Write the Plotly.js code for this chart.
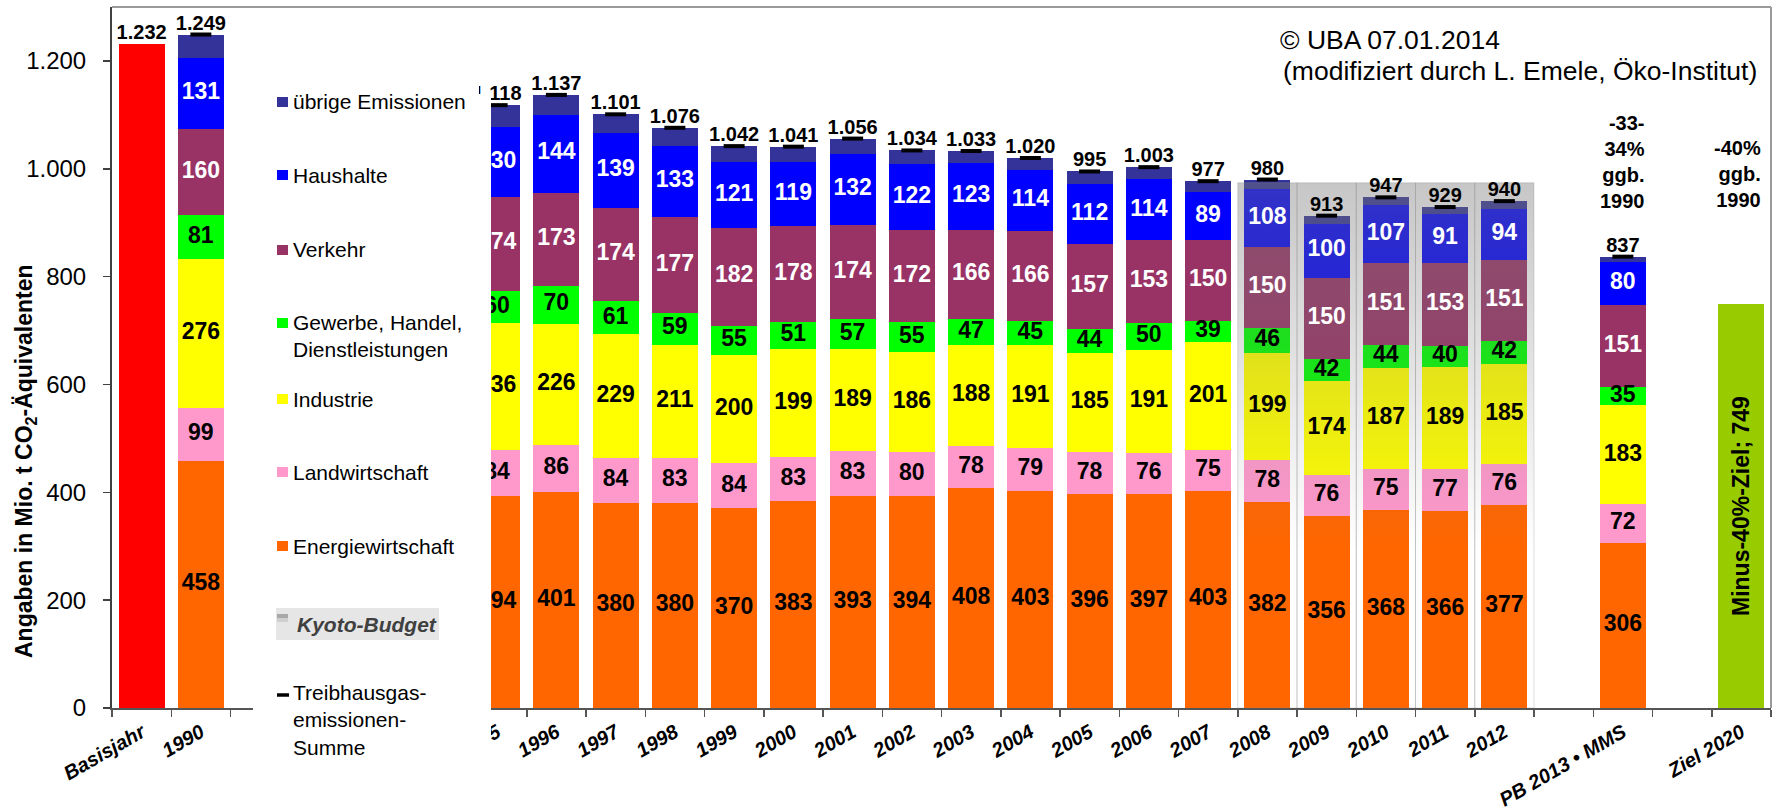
<!DOCTYPE html>
<html><head><meta charset="utf-8">
<script src="https://cdn.plot.ly/plotly-3.0.1.min.js"></script>
<style>html,body{margin:0;padding:0;background:#fff;}#chart{width:1776px;height:808px;}</style>
</head><body><div id="chart"></div>
<script>
// ---------- data ----------
const categories = ['Basisjahr','1990','','','','','1995','1996','1997','1998','1999','2000','2001','2002','2003','2004','2005','2006','2007','2008','2009','2010','2011','2012','','PB 2013 • MMS','','Ziel 2020'];

const energiewirtschaft = [null,458,null,null,null,null,394,401,380,380,370,383,393,394,408,403,396,397,403,382,356,368,366,377,null,306,null,null];
const landwirtschaft    = [null, 99,null,null,null,null, 84, 86, 84, 83, 84, 83, 83, 80, 78, 79, 78, 76, 75, 78, 76, 75, 77, 76,null, 72,null,null];
const industrie         = [null,276,null,null,null,null,236,226,229,211,200,199,189,186,188,191,185,191,201,199,174,187,189,185,null,183,null,null];
const gewerbe           = [null, 81,null,null,null,null, 60, 70, 61, 59, 55, 51, 57, 55, 47, 45, 44, 50, 39, 46, 42, 44, 40, 42,null, 35,null,null];
const verkehr           = [null,160,null,null,null,null,174,173,174,177,182,178,174,172,166,166,157,153,150,150,150,151,153,151,null,151,null,null];
const haushalte         = [null,131,null,null,null,null,130,144,139,133,121,119,132,122,123,114,112,114, 89,108,100,107, 91, 94,null, 80,null,null];
const uebrige           = [null, 44,null,null,null,null, 40, 37, 34, 33, 30, 28, 28, 25, 23, 22, 23, 22, 20, 17, 15, 15, 13, 15,null, 10,null,null];
const summe             = [null,1249,null,null,null,null,1118,1137,1101,1076,1042,1041,1056,1034,1033,1020,995,1003,977,980,913,947,929,940,null,837,null,null];

const basisjahrWert = 1232;
const zielWert = 749;
const kyotoBudget = 974;
const kyotoJahre = ['2008','2009','2010','2011','2012'];

// ---------- styles ----------
const FONT = 'Liberation Sans, Arial, sans-serif';
const series = [
  {name:'Energiewirtschaft', legend:'Energiewirtschaft', values:energiewirtschaft, color:'#ff6600', label:'#000000', ly:546},
  {name:'Landwirtschaft', legend:'Landwirtschaft', values:landwirtschaft, color:'#ff99cc', label:'#000000', ly:472},
  {name:'Industrie', legend:'Industrie', values:industrie, color:'#ffff00', label:'#000000', ly:399},
  {name:'Gewerbe, Handel, Dienstleistungen', legend:'Gewerbe, Handel,<br>Dienstleistungen', values:gewerbe, color:'#00ff00', label:'#000000', ly:323, lyc:335.5},
  {name:'Verkehr', legend:'Verkehr', values:verkehr, color:'#993366', label:'#ffffff', ly:250},
  {name:'Haushalte', legend:'Haushalte', values:haushalte, color:'#0000ff', label:'#ffffff', ly:175},
  {name:'übrige Emissionen', legend:'übrige Emissionen', values:uebrige, color:'#333399', label:null, ly:102}
];

const xIdx = categories.map((c, i) => i);

// plot area in pixels
const PL = 112, PR = 1771, PT = 7, PBt = 708;
const xp = px => (px - PL) / (PR - PL);
const yp = py => (PBt - py) / (PBt - PT);

const totalFont = {family:FONT, size:20, weight:'bold', color:'#000'};
const traces = [];

// red base-year bar
traces.push({
  type:'bar', name:'Basisjahr', x:[categories.indexOf('Basisjahr')], y:[basisjahrWert],
  marker:{color:'#ff0000'}, showlegend:false, hoverinfo:'y'
});

// stacked sector bars
series.forEach(s => {
  traces.push({
    type:'bar', name:s.name, x:xIdx, y:s.values, marker:{color:s.color, line:{width:0}},
    showlegend:false, hoverinfo:'y+name'
  });
});

// target bar
traces.push({
  type:'bar', name:'Minus-40%-Ziel', x:[categories.indexOf('Ziel 2020')], y:[zielWert],
  marker:{color:'#99cc00'}, texttemplate:'Minus-40%-Ziel; %{y}', textposition:'inside', insidetextanchor:'middle',
  textangle:-90, constraintext:'none', textfont:{family:FONT, size:23, weight:'bold', color:'#000'},
  showlegend:false, hoverinfo:'y'
});

// Kyoto budget overlay (gradient)
const kx = [], ky = [];
kyotoJahre.forEach(j => {
  const i = categories.indexOf(j);
  kx.push(i - 0.5, i - 0.5, i + 0.5, i + 0.5, i - 0.5, null);
  ky.push(0, kyotoBudget, kyotoBudget, 0, 0, null);
});
traces.push({
  type:'scatter', mode:'lines', name:'Kyoto-Budget', x:kx, y:ky, fill:'toself',
  fillgradient:{type:'vertical', start:0, stop:kyotoBudget,
    colorscale:[[0,'rgba(121,121,121,0)'],[0.3,'rgba(121,121,121,0)'],[1,'rgba(121,121,121,0.42)']]},
  line:{color:'rgba(140,140,140,0.3)', width:1}, hoverinfo:'skip', showlegend:false
});

// segment labels (drawn above the overlay)
const cum = xIdx.map(() => 0);
series.forEach(s => {
  const lx = [], ly = [], lt = [];
  s.values.forEach((v, i) => {
    if (v == null) return;
    if (s.label) { lx.push(i); ly.push(cum[i] + v / 2); lt.push(String(v)); }
    cum[i] += v;
  });
  if (s.label) traces.push({
    type:'scatter', mode:'text', x:lx, y:ly, text:lt, textposition:'middle center', cliponaxis:false,
    textfont:{family:FONT, size:23, weight:'bold', color:s.label}, showlegend:false, hoverinfo:'skip'
  });
});

// totals: markers and labels
traces.push({
  type:'scatter', mode:'markers', name:'Treibhausgas-emissionen-Summe', x:xIdx, y:summe,
  marker:{symbol:'line-ew', size:15, color:'#000', line:{color:'#000', width:4}},
  cliponaxis:false, showlegend:false, hoverinfo:'y'
});
traces.push({
  type:'scatter', mode:'text', name:'Summe (Beschriftung)', x:xIdx, y:summe,
  texttemplate:'%{y:,.0f}', textposition:'top center', cliponaxis:false,
  textfont:totalFont, showlegend:false, hoverinfo:'skip'
});
traces.push({
  type:'scatter', mode:'text', name:'Basisjahr (Beschriftung)', x:[categories.indexOf('Basisjahr')], y:[basisjahrWert],
  texttemplate:'%{y:,.0f}', textposition:'top center', cliponaxis:false,
  textfont:totalFont, showlegend:false, hoverinfo:'skip'
});

// ---------- legend (drawn manually, covering the chart like the original) ----------
const shapes = [];
const annotations = [];
shapes.push({type:'rect', xref:'paper', yref:'paper', x0:xp(253), x1:xp(491), y0:yp(805), y1:yp(94),
  fillcolor:'#ffffff', line:{width:0}, layer:'above'});
shapes.push({type:'rect', xref:'paper', yref:'paper', x0:xp(253), x1:xp(479), y0:yp(95), y1:yp(12),
  fillcolor:'#ffffff', line:{width:0}, layer:'above'});
series.forEach(s => {
  shapes.push({type:'rect', xref:'paper', yref:'paper', x0:xp(277), x1:xp(288), y0:yp(s.ly + 5), y1:yp(s.ly - 5),
    fillcolor:s.color, line:{width:0}, layer:'above'});
  annotations.push({xref:'paper', yref:'paper', x:xp(291), y:yp(s.lyc || s.ly), xanchor:'left', yanchor:'middle',
    align:'left', showarrow:false, text:s.legend, font:{family:FONT, size:21, color:'#000'}});
});
// Kyoto-Budget legend item
shapes.push({type:'rect', xref:'paper', yref:'paper', x0:xp(276), x1:xp(439), y0:yp(640), y1:yp(608),
  fillcolor:'#e6e6e6', line:{width:0}, layer:'above'});
shapes.push({type:'rect', xref:'paper', yref:'paper', x0:xp(277), x1:xp(288), y0:yp(618), y1:yp(614),
  fillcolor:'#a8a8a8', line:{width:0}, layer:'above'});
shapes.push({type:'rect', xref:'paper', yref:'paper', x0:xp(277), x1:xp(288), y0:yp(622), y1:yp(618),
  fillcolor:'#cfcfcf', line:{width:0}, layer:'above'});
annotations.push({xref:'paper', yref:'paper', x:xp(295), y:yp(624), xanchor:'left', yanchor:'middle', showarrow:false,
  text:'Kyoto-Budget', font:{family:FONT, size:21, weight:'bold', style:'italic', color:'#404040'}});
// Summe legend item
shapes.push({type:'line', xref:'paper', yref:'paper', x0:xp(277), x1:xp(289), y0:yp(695), y1:yp(695),
  line:{color:'#000', width:3.5}, layer:'above'});
annotations.push({xref:'paper', yref:'paper', x:xp(291), y:yp(720), xanchor:'left', yanchor:'middle', align:'left',
  showarrow:false, text:'Treibhausgas-<br>emissionen-<br>Summe', font:{family:FONT, size:21, color:'#000'}});

// frame (top / right)
shapes.push({type:'line', xref:'paper', yref:'paper', x0:0, x1:1, y0:1, y1:1, line:{color:'#9a9a9a', width:2}, layer:'above'});
shapes.push({type:'line', xref:'paper', yref:'paper', x0:1, x1:1, y0:0, y1:1, line:{color:'#9a9a9a', width:2}, layer:'above'});

// other texts
annotations.push({xref:'paper', yref:'paper', x:xp(25), y:yp(461), xanchor:'center', yanchor:'middle', textangle:-90,
  showarrow:false, text:'Angaben in Mio. t CO<sub>2</sub>-Äquivalenten', font:{family:FONT, size:23, weight:'bold', color:'#000'}});
annotations.push({xref:'paper', yref:'paper', x:xp(1278), y:yp(40), xanchor:'left', yanchor:'middle', showarrow:false,
  text:'© UBA 07.01.2014', font:{family:FONT, size:26.5, color:'#000'}});
annotations.push({xref:'paper', yref:'paper', x:xp(1281), y:yp(71), xanchor:'left', yanchor:'middle', showarrow:false,
  text:'(modifiziert durch L. Emele, Öko-Institut)', font:{family:FONT, size:26.5, color:'#000'}});
annotations.push({xref:'paper', yref:'paper', x:xp(1647), y:yp(162), xanchor:'right', yanchor:'middle', align:'right', showarrow:false,
  text:'-33-<br>34%<br>ggb.<br>1990', font:{family:FONT, size:20, weight:'bold', color:'#000'}});
annotations.push({xref:'paper', yref:'paper', x:xp(1763), y:yp(174), xanchor:'right', yanchor:'middle', align:'right', showarrow:false,
  text:'-40%<br>ggb.<br>1990', font:{family:FONT, size:20, weight:'bold', color:'#000'}});

const layout = {
  width:1776, height:808,
  margin:{l:PL, r:1776 - PR, t:PT, b:808 - PBt, pad:0},
  paper_bgcolor:'#ffffff', plot_bgcolor:'#ffffff',
  barmode:'stack', bargap:0.22,
  separators:',.',
  showlegend:false,
  font:{family:FONT, color:'#000'},
  xaxis:{
    type:'linear', range:[-0.5, categories.length - 0.5], automargin:false, fixedrange:true,
    tickmode:'array', tickvals:xIdx.filter(i => categories[i] !== ''), ticktext:categories.filter(c => c !== ''),
    tickangle:-30, ticks:'', ticklabelstandoff:3,
    tickfont:{family:FONT, size:20, weight:'bold', style:'italic', color:'#000'},
    showline:true, linecolor:'#555555', linewidth:2, showgrid:false, zeroline:false,
    minor:{tickmode:'linear', tick0:-0.5, dtick:1, ticks:'outside', ticklen:7, tickwidth:1.5, tickcolor:'#555555', showgrid:false}
  },
  yaxis:{
    range:[0, 1300], automargin:false, fixedrange:true,
    tickmode:'linear', tick0:0, dtick:200, ticks:'outside', ticklen:7, tickwidth:1.5, tickcolor:'#404040',
    separatethousands:true, ticklabelstandoff:12,
    tickfont:{family:FONT, size:24, color:'#000'},
    showline:true, linecolor:'#404040', linewidth:2, showgrid:false, zeroline:false
  },
  shapes:shapes,
  annotations:annotations
};

Plotly.newPlot('chart', traces, layout, {displayModeBar:false, staticPlot:true});
</script></body></html>
